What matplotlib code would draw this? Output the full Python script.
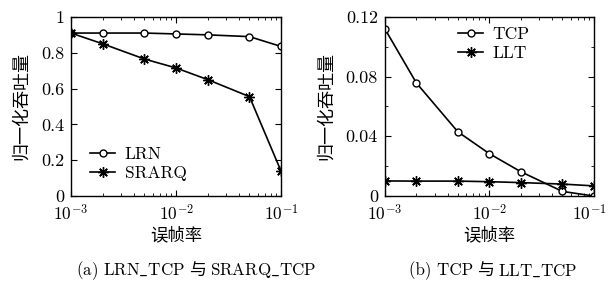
import matplotlib
matplotlib.use("Agg")
import matplotlib.pyplot as plt
import matplotlib.transforms as mtransforms
from matplotlib.ticker import FixedLocator

plt.rcParams['mathtext.fontset'] = 'cm'
plt.rcParams['axes.unicode_minus'] = False

# data
fer = [0.001, 0.002, 0.005, 0.01, 0.02, 0.05, 0.1]
lrn = [0.91, 0.91, 0.91, 0.905, 0.90, 0.89, 0.835]
srarq = [0.91, 0.85, 0.765, 0.715, 0.65, 0.555, 0.138]
tcp = [0.112, 0.0758, 0.043, 0.0284, 0.0163, 0.0031, 0.0]
llt = [0.0101, 0.0100, 0.0100, 0.0096, 0.0090, 0.0080, 0.0068]

yticks_a = [0, 0.2, 0.4, 0.6, 0.8, 1]
ylabels_a = ['0', '0.2', '0.4', '0.6', '0.8', '1']
yticks_b = [0, 0.04, 0.08, 0.12]
ylabels_b = ['0', '0.04', '0.08', '0.12']
xticks = [0.001, 0.01, 0.1]
xlabels = [r'$10^{-3}$', r'$10^{-2}$', r'$10^{-1}$']

caption_a = [r'(a) LRN$\_$TCP', '与', r'SRARQ$\_$TCP']
caption_b = [r'(b) TCP', '与', r'LLT$\_$TCP']

cjk = ['Noto Sans CJK SC', 'DejaVu Sans']
star = (8, 2, 0)

fig = plt.figure(figsize=(6.09, 2.87), dpi=100)
ax1 = fig.add_axes([0.1166, 0.317, 0.345, 0.624])
ax2 = fig.add_axes([0.632, 0.317, 0.343, 0.624])

def style(ax, yt, yl, ymax):
    ax.set_xscale('log')
    ax.set_xlim(0.001, 0.1)
    ax.set_ylim(0, ymax)
    ax.set_xticks(xticks)
    ax.set_xticklabels(xlabels, fontsize=12.5)
    ax.set_yticks(yt)
    ax.set_yticklabels(yl, fontsize=13, family='cmr10')
    ax.tick_params(which='both', direction='in', top=True, right=True)
    ax.tick_params(which='major', length=4, pad=5)
    ax.tick_params(axis='x', which='major', pad=6)
    ax.tick_params(which='minor', length=2)
    ax.set_xlabel('误帧率', family=cjk, fontsize=12.5, labelpad=1)
    ax.set_ylabel('归一化吞吐量', family=cjk, fontsize=13, labelpad=8)
    for s in ax.spines.values():
        s.set_linewidth(1.0)

leg_kw = dict(frameon=False, prop={'family': 'cmr10', 'size': 12.5},
              handlelength=1.45, handletextpad=0.55, labelspacing=0.18,
              borderpad=0, borderaxespad=0, loc='center left')

ax1.plot(fer, lrn, 'k-', marker='o', mfc='white', ms=5, lw=1.2, label='LRN')
ax1.plot(fer, srarq, 'k-', marker=star, ms=7.5, lw=1.2, label='SRARQ')
style(ax1, yticks_a, ylabels_a, 1)
ax1.legend(bbox_to_anchor=(0.09, 0.18), **leg_kw)

ax2.plot(fer, tcp, 'k-', marker='o', mfc='white', ms=5, lw=1.2, label='TCP')
ax2.plot(fer, llt, 'k-', marker=star, ms=7.5, lw=1.2, label='LLT')
style(ax2, yticks_b, ylabels_b, 0.12)
ax2.yaxis.set_minor_locator(FixedLocator([0.02, 0.06, 0.10]))
ax2.legend(bbox_to_anchor=(0.35, 0.85), **leg_kw)

# keep the last tick label of the right panel inside the figure
last = ax2.get_xticklabels()[-1]
last.set_transform(last.get_transform() +
                   mtransforms.ScaledTranslation(-4 / 100, 0, fig.dpi_scale_trans))

def caption(x0, parts, size=12.2):
    # latin pieces in cmr10, the CJK char in Noto, placed one after another
    prev = fig.text(x0, 0.056, parts[0], ha='left', va='center',
                    family='cmr10', fontsize=size)
    for i, p in enumerate(parts[1:]):
        fam = cjk if i == 0 else 'cmr10'
        prev = ax1.annotate(p, xy=(1, 0.5), xycoords=prev, xytext=(3, 0),
                            textcoords='offset points', ha='left', va='center',
                            family=fam, fontsize=size, annotation_clip=False)

caption(76 / 609, caption_a)
caption(409 / 609, caption_b)

fig.savefig('out.png', dpi=100)
